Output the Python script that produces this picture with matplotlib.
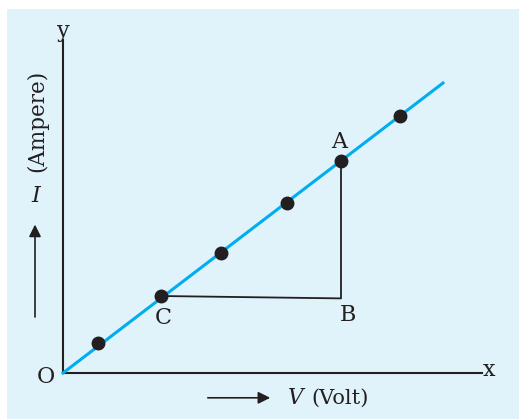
import matplotlib

matplotlib.use("Agg")
import matplotlib.pyplot as plt
from matplotlib.patches import Rectangle

# measured points on the V-I line (arbitrary units)
volts = [0.875, 2.45, 3.95, 5.6, 6.95, 8.425]
amps = [0.75, 1.925, 3.0, 4.25, 5.3, 6.425]
line_v = [0.0, 9.5]
line_i = [0.0, 7.25]
# triangle A-B-C used for the slope
idx_a, idx_c = 4, 1

BG = "#e0f2fa"
BLUE = "#00aeef"
INK = "#231f20"
FONT = "DejaVu Serif"

fig = plt.figure(figsize=(5.19, 4.19), dpi=100)
ax = fig.add_axes([0, 0, 1, 1])
ax.set_xlim(-1.575, 11.4)
ax.set_ylim(-1.15, 9.325)
ax.axis("off")

# light blue panel
ax.add_patch(Rectangle((-1.4, -1.15), 13.0, 10.25, color=BG, zorder=0, lw=0))

# axes
ax.plot([0, 0], [0, 8.325], color=INK, lw=1.5, zorder=2)
ax.plot([0, 10.475], [0, 0], color=INK, lw=1.5, zorder=2)

# fitted line
ax.plot(line_v, line_i, color=BLUE, lw=2.2, zorder=3)

# triangle
va, ia = volts[idx_a], amps[idx_a]
vc, ic = volts[idx_c], amps[idx_c]
ax.plot([vc, va, va], [ic, ic - 0.06, ia], color=INK, lw=1.3, zorder=2)

ax.plot(volts, amps, "o", color=INK, ms=9, zorder=4)

fs = 16
ax.text(0, 8.55, "y", fontsize=fs, family=FONT, ha="center", va="center", color=INK)
ax.text(10.65, 0.07, "x", fontsize=fs, family=FONT, ha="center", va="center", color=INK)
ax.text(-0.42, -0.1, "O", fontsize=fs, family=FONT, ha="center", va="center", color=INK)
ax.text(va - 0.05, ia + 0.48, "A", fontsize=fs, family=FONT, ha="center", va="center", color=INK)
ax.text(va + 0.18, ic - 0.48, "B", fontsize=fs, family=FONT, ha="center", va="center", color=INK)
ax.text(vc + 0.05, ic - 0.55, "C", fontsize=fs, family=FONT, ha="center", va="center", color=INK)

# V (Volt) label with arrow
ax.annotate("", xy=(5.25, -0.62), xytext=(3.55, -0.62),
            arrowprops=dict(arrowstyle="-|>", color=INK, lw=1.2, mutation_scale=18))
ax.text(5.6, -0.62, "$V$", fontsize=15.5, family=FONT, ha="left", va="center", color=INK,
        math_fontfamily="dejavuserif")
ax.text(6.2, -0.62, "(Volt)", fontsize=15, family=FONT, ha="left", va="center", color=INK)

# I (Ampere) label with arrow
ax.annotate("", xy=(-0.7, 3.78), xytext=(-0.7, 1.33),
            arrowprops=dict(arrowstyle="-|>", color=INK, lw=1.2, mutation_scale=18))
ax.text(-0.65, 4.42, "$I$", fontsize=16, family=FONT, ha="center", va="center", color=INK,
        math_fontfamily="dejavuserif")
ax.text(-0.65, 6.3, "(Ampere)", fontsize=15.5, family=FONT, ha="center", va="center",
        rotation=90, color=INK)

fig.savefig("out.png", dpi=100)
